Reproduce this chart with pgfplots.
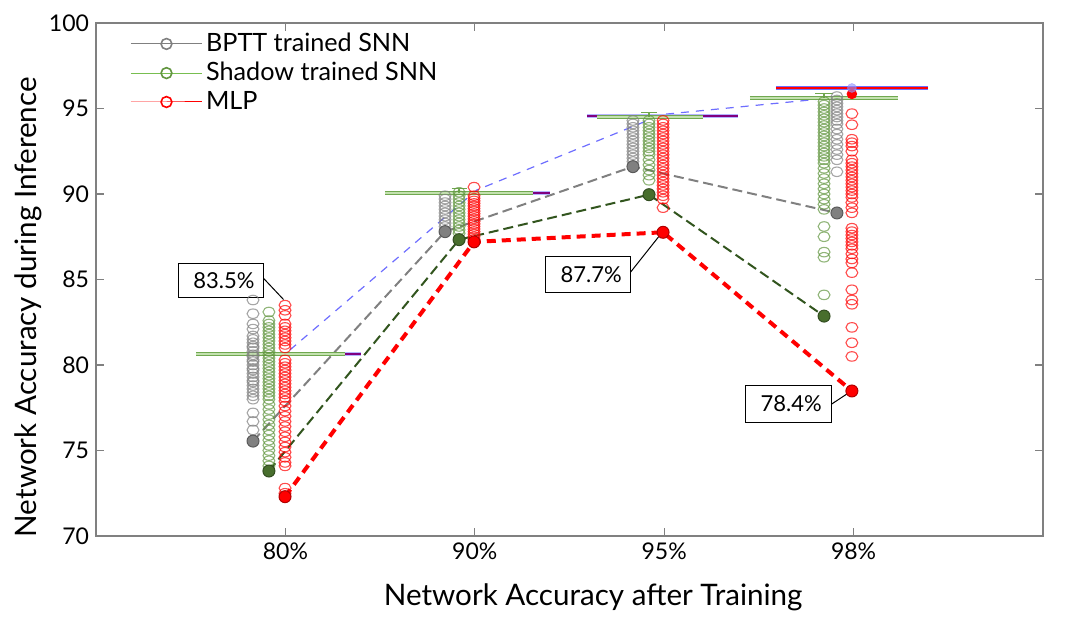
\documentclass[border=0pt]{standalone}
\usepackage{pgfplots}
\pgfplotsset{compat=1.18}
\usepackage{fontspec}
\setmainfont{Lato}
\definecolor{cgray}{RGB}{128,128,128}
\definecolor{cgreen}{RGB}{98,150,64}
\definecolor{cgreenl}{RGB}{120,190,80}
\definecolor{cdgreen}{RGB}{72,110,45}
\definecolor{cdgreenline}{RGB}{50,85,30}
\definecolor{cblue}{RGB}{110,110,255}
\definecolor{cpurple}{RGB}{128,0,128}
\definecolor{cbar}{RGB}{112,168,80}
\definecolor{cbarin}{RGB}{195,225,175}
\definecolor{chalo}{RGB}{150,150,255}
\definecolor{cred}{RGB}{255,0,0}
\pgfplotsset{
  circ/.style={only marks, mark=o, mark size=2.7pt, forget plot,
    mark options={xscale=1.1, yscale=0.88, line width=0.55pt, draw=#1, draw opacity=0.7}},
  filled/.style={only marks, mark=*, mark size=3pt, forget plot,
    mark options={fill=#1, draw=#1!70!black, line width=0.5pt}},
  gbar/.style={forget plot, no marks},
}
\begin{document}
\begin{tikzpicture}
\useasboundingbox (-48pt,-47.5pt) rectangle (490.5pt,268pt);
\begin{axis}[
  scale only axis, width=473.5pt, height=256.5pt,
  xmin=0, xmax=5, ymin=70, ymax=100,
  xtick={1,2,3,4}, xticklabels={80\%,90\%,95\%,98\%},
  ytick={70,75,80,85,90,95,100},
  tick align=inside, major tick length=4pt,
  axis line style={cgray, line width=0.8pt},
  tick style={cgray, line width=0.6pt},
  ticklabel style={font=\fontsize{11.5}{13}\selectfont},
  /pgf/number format/assume math mode=true,
  xlabel={Network Accuracy after Training},
  ylabel={Network Accuracy during Inference},
  label style={font=\fontsize{14.8}{17}\selectfont},
  xlabel style={at={(axis description cs:0.525,-0.119)}, anchor=center},
  ylabel style={at={(axis description cs:-0.072,0.446)}, anchor=center},
  legend cell align=left,
  legend style={at={(axis description cs:0.036,0.988)}, anchor=north west,
    draw=none, fill=none, inner sep=0pt, row sep=0.2pt,
    nodes={inner sep=1.8pt},
    font=\fontsize{12.6}{14}\selectfont},
  legend image code/.code={\draw[mark repeat=2,mark phase=2,#1] plot coordinates {(0pt,0pt) (17.75pt,0pt) (35.5pt,0pt)};},
]
\addlegendimage{draw=cgray, line width=0.5pt, mark=o, mark size=2.7pt, mark options={draw=cgray, line width=0.8pt}}
\addlegendentry{BPTT trained SNN}
\addlegendimage{draw=cgreenl, line width=0.5pt, mark=o, mark size=2.7pt, mark options={draw=cgreen, line width=0.8pt}}
\addlegendentry{Shadow trained SNN}
\addlegendimage{draw=cred, line width=0.5pt, mark=o, mark size=2.7pt, mark options={draw=cred, line width=0.8pt}}
\addlegendentry{MLP}

% ---- 80% ----
\addplot[circ=cgray] coordinates {(0.829,83.8)(0.829,83.0)(0.829,82.4)(0.829,82.1)(0.829,81.7)(0.829,81.5)(0.829,81.3)(0.829,81.1)(0.829,81.0)(0.829,80.8)(0.829,80.6)(0.829,80.5)(0.829,80.3)(0.829,80.2)(0.829,80.0)(0.829,79.8)(0.829,79.7)(0.829,79.5)(0.829,79.3)(0.829,79.1)(0.829,79.0)(0.829,78.8)(0.829,78.6)(0.829,78.4)(0.829,78.2)(0.829,78.0)(0.829,77.2)(0.829,76.7)(0.829,76.2)};
\addplot[circ=cgreen] coordinates {(0.913,83.1)(0.913,82.6)(0.913,82.4)(0.913,82.2)(0.913,82.0)(0.913,81.8)(0.913,81.6)(0.913,81.4)(0.913,81.2)(0.913,81.0)(0.913,80.8)(0.913,80.6)(0.913,80.4)(0.913,80.2)(0.913,80.0)(0.913,79.8)(0.913,79.6)(0.913,79.4)(0.913,79.2)(0.913,79.0)(0.913,78.8)(0.913,78.6)(0.913,78.4)(0.913,78.2)(0.913,78.0)(0.913,77.7)(0.913,77.4)(0.913,77.1)(0.913,76.8)(0.913,76.5)(0.913,76.2)(0.913,75.9)(0.913,75.6)(0.913,75.3)(0.913,75.0)(0.913,74.7)(0.913,74.4)(0.913,74.1)};
\addplot[circ=cred] coordinates {(0.998,83.5)(0.998,83.2)(0.998,82.9)(0.998,82.4)(0.998,82.2)(0.998,82.0)(0.998,81.8)(0.998,81.6)(0.998,81.4)(0.998,81.2)(0.998,81.0)(0.998,80.3)(0.998,80.1)(0.998,79.9)(0.998,79.7)(0.998,79.5)(0.998,79.3)(0.998,79.1)(0.998,78.9)(0.998,78.7)(0.998,78.5)(0.998,78.3)(0.998,78.1)(0.998,77.9)(0.998,77.6)(0.998,77.3)(0.998,77.0)(0.998,76.7)(0.998,76.4)(0.998,76.1)(0.998,75.8)(0.998,75.5)(0.998,75.2)(0.998,74.9)(0.998,74.6)(0.998,74.3)(0.998,74.1)(0.998,72.8)(0.998,72.5)};
% ---- 90% ----
\addplot[circ=cgray] coordinates {(1.843,89.9)(1.843,89.7)(1.843,89.5)(1.843,89.3)(1.843,89.1)(1.843,88.9)(1.843,88.7)(1.843,88.5)(1.843,88.3)(1.843,88.1)};
\addplot[circ=cgreen] coordinates {(1.917,90.1)(1.917,89.9)(1.917,89.7)(1.917,89.5)(1.917,89.3)(1.917,89.1)(1.917,88.9)(1.917,88.7)(1.917,88.5)(1.917,88.3)(1.917,88.1)(1.917,87.9)(1.917,87.7)};
\addplot[circ=cred] coordinates {(1.996,90.4)(1.996,89.9)(1.996,89.75)(1.996,89.6)(1.996,89.45)(1.996,89.3)(1.996,89.15)(1.996,89.0)(1.996,88.85)(1.996,88.7)(1.996,88.55)(1.996,88.4)(1.996,88.25)(1.996,88.1)(1.996,87.95)(1.996,87.8)(1.996,87.65)(1.996,87.5)(1.996,87.35)};
% ---- 95% ----
\addplot[circ=cgray] coordinates {(2.835,94.3)(2.835,94.1)(2.835,93.9)(2.835,93.7)(2.835,93.5)(2.835,93.3)(2.835,93.1)(2.835,92.9)(2.835,92.7)(2.835,92.5)(2.835,92.3)(2.835,92.1)(2.835,91.9)};
\addplot[circ=cgreen] coordinates {(2.92,94.3)(2.92,94.1)(2.92,93.9)(2.92,93.7)(2.92,93.5)(2.92,93.3)(2.92,93.1)(2.92,92.9)(2.92,92.7)(2.92,92.5)(2.92,92.3)(2.92,92.0)(2.92,91.7)(2.92,91.4)(2.92,91.1)(2.92,90.8)};
\addplot[circ=cred] coordinates {(2.994,94.3)(2.994,94.1)(2.994,93.9)(2.994,93.7)(2.994,93.5)(2.994,93.3)(2.994,93.1)(2.994,92.9)(2.994,92.7)(2.994,92.5)(2.994,92.3)(2.994,92.1)(2.994,91.9)(2.994,91.7)(2.994,91.5)(2.994,91.3)(2.994,91.1)(2.994,90.9)(2.994,90.7)(2.994,90.5)(2.994,90.3)(2.994,90.1)(2.994,89.9)(2.994,89.7)(2.994,89.2)};
% ---- 98% ----
\addplot[circ=cgreen] coordinates {(3.844,95.4)(3.844,95.2)(3.844,95.0)(3.844,94.8)(3.844,94.6)(3.844,94.4)(3.844,94.2)(3.844,94.0)(3.844,93.8)(3.844,93.6)(3.844,93.4)(3.844,93.2)(3.844,93.0)(3.844,92.8)(3.844,92.6)(3.844,92.4)(3.844,92.2)(3.844,92.0)(3.844,91.8)(3.844,91.5)(3.844,91.2)(3.844,90.9)(3.844,90.6)(3.844,90.3)(3.844,90.0)(3.844,89.7)(3.844,89.4)(3.844,89.1)(3.844,88.1)(3.844,87.5)(3.844,86.6)(3.844,86.3)(3.844,84.1)};
\addplot[circ=cgray] coordinates {(3.912,95.7)(3.912,95.5)(3.912,95.3)(3.912,95.1)(3.912,94.9)(3.912,94.7)(3.912,94.5)(3.912,94.3)(3.912,94.1)(3.912,93.8)(3.912,93.5)(3.912,93.2)(3.912,92.9)(3.912,92.6)(3.912,92.3)(3.912,92.0)(3.912,91.3)};
\addplot[circ=cred] coordinates {(3.991,94.7)(3.991,94.05)(3.991,93.2)(3.991,93.0)(3.991,92.8)(3.991,92.5)(3.991,92.0)(3.991,91.8)(3.991,91.6)(3.991,91.4)(3.991,91.2)(3.991,91.0)(3.991,90.8)(3.991,90.6)(3.991,90.4)(3.991,90.2)(3.991,90.0)(3.991,89.8)(3.991,89.5)(3.991,89.2)(3.991,88.9)(3.991,88.0)(3.991,87.8)(3.991,87.6)(3.991,87.4)(3.991,87.2)(3.991,87.0)(3.991,86.8)(3.991,86.5)(3.991,86.2)(3.991,85.97)(3.991,85.4)(3.991,84.4)(3.991,83.8)(3.991,83.55)(3.991,82.2)(3.991,81.3)(3.991,80.5)};

% ---- dashed trend lines ----
\addplot[forget plot, no marks, cblue, line width=0.6pt, dash pattern=on 4pt off 3.5pt] coordinates {(1.024,80.88)(2.01,90.23)(2.99,94.65)(3.82,95.55)};
\addplot[forget plot, no marks, cgray, line width=1pt, dash pattern=on 5pt off 2.5pt] coordinates {(0.829,75.55)(1.843,87.8)(2.835,91.6)(3.912,88.89)};
\addplot[forget plot, no marks, cdgreenline, line width=1pt, dash pattern=on 5pt off 2.5pt] coordinates {(0.913,73.8)(1.917,87.33)(2.92,89.96)(3.844,82.86)};
\addplot[forget plot, no marks, cred, line width=2pt, dash pattern=on 4.5pt off 3pt] coordinates {(0.998,72.3)(1.996,87.2)(2.994,87.76)(3.991,78.48)};

% ---- filled minima ----
\addplot[filled=cgray] coordinates {(0.829,75.55)(1.843,87.8)(2.835,91.6)(3.912,88.89)};
\addplot[filled=cdgreen] coordinates {(0.913,73.8)(1.917,87.33)(2.92,89.96)(3.844,82.86)};
\addplot[filled=cred] coordinates {(0.998,72.3)(1.996,87.2)(2.994,87.76)(3.991,78.48)};
\addplot[only marks, forget plot, mark=*, mark size=2.4pt, mark options={fill=cred, draw=cred}] coordinates {(3.991,95.85)};
\addplot[only marks, forget plot, mark=*, mark size=2.2pt, mark options={fill=chalo, draw=chalo, opacity=0.6}] coordinates {(3.991,96.2)};

% ---- horizontal bars ----
\addplot[gbar, chalo, line width=2pt, opacity=0.7] coordinates {(0.597,80.64)(1.399,80.64)};
\addplot[gbar, cpurple, line width=1pt] coordinates {(0.597,80.64)(1.399,80.64)};
\addplot[gbar, chalo, line width=2pt, opacity=0.7] coordinates {(1.594,90.06)(2.397,90.06)};
\addplot[gbar, cpurple, line width=1pt] coordinates {(1.594,90.06)(2.397,90.06)};
\addplot[gbar, chalo, line width=2pt, opacity=0.7] coordinates {(2.592,94.57)(3.390,94.57)};
\addplot[gbar, cpurple, line width=1pt] coordinates {(2.592,94.57)(3.390,94.57)};
\addplot[gbar, cblue, line width=2pt] coordinates {(3.590,96.18)(4.393,96.18)};
\addplot[gbar, cred, line width=0.9pt] coordinates {(3.590,96.18)(4.393,96.18)};

\addplot[gbar, cbar, line width=2.2pt] coordinates {(0.528,80.64)(1.315,80.64)};
\addplot[gbar, cbarin, line width=0.8pt] coordinates {(0.528,80.64)(1.315,80.64)};
\addplot[gbar, cbar, line width=2.2pt] coordinates {(1.526,90.06)(2.307,90.06)};
\addplot[gbar, cbarin, line width=0.8pt] coordinates {(1.526,90.06)(2.307,90.06)};
\addplot[gbar, cbar, line width=2.2pt] coordinates {(2.645,94.52)(3.205,94.52)};
\addplot[gbar, cbarin, line width=0.8pt] coordinates {(2.645,94.52)(3.205,94.52)};
\addplot[gbar, cbar, line width=2.2pt] coordinates {(3.453,95.63)(4.234,95.63)};
\addplot[gbar, cbarin, line width=0.8pt] coordinates {(3.453,95.63)(4.234,95.63)};
% small caps
\addplot[gbar, cbar, line width=0.6pt] coordinates {(1.917,90.06)(1.917,90.3)};
\addplot[gbar, cbar, line width=0.6pt] coordinates {(1.877,90.3)(1.957,90.3)};
\addplot[gbar, cbar, line width=0.6pt] coordinates {(2.92,94.52)(2.92,94.76)};
\addplot[gbar, cbar, line width=0.6pt] coordinates {(2.88,94.76)(2.96,94.76)};
\addplot[gbar, cbar, line width=0.6pt] coordinates {(3.844,95.63)(3.844,95.9)};
\addplot[gbar, cbar, line width=0.6pt] coordinates {(3.797,95.9)(3.891,95.9)};

% ---- annotations ----
\draw[black, line width=0.5pt] (axis cs:0.882,85.1) -- (axis cs:0.99,83.83);
\draw[black, line width=0.5pt, fill=white] (axis cs:0.433,85.96) rectangle (axis cs:0.882,83.92);
\node[font=\fontsize{11}{12}\selectfont, inner sep=0pt] at (axis cs:0.675,84.94) {83.5\%};
\draw[black, line width=0.5pt] (axis cs:2.821,85.41) -- (axis cs:2.98,87.63);
\draw[black, line width=0.5pt, fill=white] (axis cs:2.372,86.34) rectangle (axis cs:2.821,84.24);
\node[font=\fontsize{11}{12}\selectfont, inner sep=0pt] at (axis cs:2.615,85.29) {87.7\%};
\draw[black, line width=0.5pt] (axis cs:3.882,77.70) -- (axis cs:3.994,78.52);
\draw[black, line width=0.5pt, fill=white] (axis cs:3.428,78.81) rectangle (axis cs:3.882,76.65);
\node[font=\fontsize{11}{12}\selectfont, inner sep=0pt] at (axis cs:3.67,77.73) {78.4\%};
\end{axis}
\end{tikzpicture}
\end{document}
